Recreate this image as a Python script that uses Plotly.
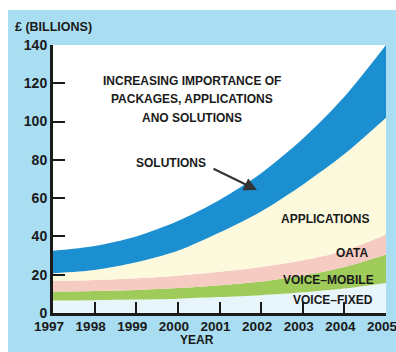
import plotly.graph_objects as go

# ---- data ----
years = [1997, 1998, 1999, 2000, 2001, 2002, 2003, 2004, 2005]
voice_fixed = [6.5, 6.7, 7.0, 7.5, 8.3, 9.3, 10.8, 12.8, 15.7]
voice_mobile = [4.7, 4.8, 5.0, 5.5, 6.2, 7.2, 8.7, 11.2, 14.8]
data_vals = [5.6, 5.8, 6.2, 6.5, 7.0, 7.5, 8.0, 8.5, 10.5]
applications = [4.0, 5.2, 8.3, 13.0, 20.5, 29.0, 39.5, 50.5, 61.0]
solutions = [11.7, 12.5, 13.5, 15.5, 17.0, 20.0, 24.0, 30.0, 38.0]
y_ticks = [0, 20, 40, 60, 80, 100, 120, 140]

series = [
    ("VOICE–FIXED", voice_fixed, "#e8f5fa"),
    ("VOICE–MOBILE", voice_mobile, "#9fcb5b"),
    ("OATA", data_vals, "#f6cbc1"),
    ("APPLICATIONS", applications, "#fdf9dc"),
    ("SOLUTIONS", solutions, "#1c8fd0"),
]

FONT = "Liberation Sans, Arial, sans-serif"
INK = "#1a1a1a"
BG = "#a9ddf2"

W, H = 396, 352
L, R, T, B = 53, 10, 45, 39
PW, PH = W - L - R, H - T - B


def px(x):
    return (x - L) / PW


def py(y):
    return (H - B - y) / PH


fig = go.Figure()
for name, vals, col in series:
    fig.add_trace(go.Scatter(
        x=years, y=vals, name=name, stackgroup="one", mode="lines",
        line=dict(width=0, shape="spline", smoothing=0.8),
        fillcolor=col, showlegend=False, hoverinfo="skip",
    ))

fig.update_layout(
    width=W, height=H,
    margin=dict(l=L, r=R, t=T, b=B, pad=0),
    paper_bgcolor=BG, plot_bgcolor="white",
    font=dict(family=FONT, color=INK),
    xaxis=dict(
        range=[1997, 2005], tickvals=years, ticks="inside", ticklen=11,
        tickwidth=1.5, tickcolor=INK, showline=True, linewidth=3,
        linecolor=INK, showgrid=False, zeroline=False, tickangle=0,
        tickfont=dict(size=13.5, family=FONT, color=INK, weight="bold"),
        automargin=False, ticklabeloverflow="allow",
        ticklabelstandoff=-1, ticklabelshift=-4,
    ),
    yaxis=dict(
        range=[0, 140], tickvals=y_ticks, ticks="inside", ticklen=12,
        tickwidth=1.5, tickcolor=INK, showline=True, linewidth=3,
        linecolor=INK, showgrid=False, zeroline=False,
        tickfont=dict(size=14, family=FONT, color=INK, weight="bold"),
        automargin=False,
    ),
    shapes=[
        dict(type="rect", xref="paper", yref="paper", layer="below",
             x0=px(-5), x1=px(W + 5), y0=py(10), y1=py(-5),
             fillcolor="white", line=dict(width=0)),
        dict(type="rect", xref="paper", yref="paper", layer="below",
             x0=px(-5), x1=px(8), y0=py(H + 5), y1=py(-5),
             fillcolor="white", line=dict(width=0)),
    ],
)

tf = dict(family=FONT, size=12, color=INK, weight="bold")
ann = [
    dict(text="£ (BILLIONS)", x=px(13), y=py(27), xanchor="left",
         font=dict(tf, size=12.5)),
    dict(text="YEAR", x=px(197), y=py(340), xanchor="center", font=tf),
    dict(text="INCREASING IMPORTANCE OF", x=px(191.5), y=py(81), xanchor="center", font=tf),
    dict(text="PACKAGES, APPLICATIONS", x=px(191.5), y=py(99.5), xanchor="center", font=tf),
    dict(text="ANO SOLUTIONS", x=px(191.5), y=py(118), xanchor="center", font=tf),
    dict(text="SOLUTIONS", x=px(171), y=py(162.5), xanchor="center", font=tf),
    dict(text="APPLICATIONS", x=px(371), y=py(219), xanchor="right", font=tf),
    dict(text="OATA", x=px(371), y=py(253), xanchor="right", font=tf),
    dict(text="VOICE–MOBILE", x=px(376), y=py(280), xanchor="right", font=tf),
    dict(text="VOICE–FIXED", x=px(375), y=py(300), xanchor="right", font=tf),
]
for a in ann:
    fig.add_annotation(xref="paper", yref="paper", yanchor="middle",
                       showarrow=False, **a)

fig.add_annotation(xref="paper", yref="paper", x=px(257), y=py(190),
                   ax=-45, ay=-22, text="", showarrow=True, arrowhead=2,
                   arrowsize=1.3, arrowwidth=2, arrowcolor="#333333")

fig.write_html("out.html")
